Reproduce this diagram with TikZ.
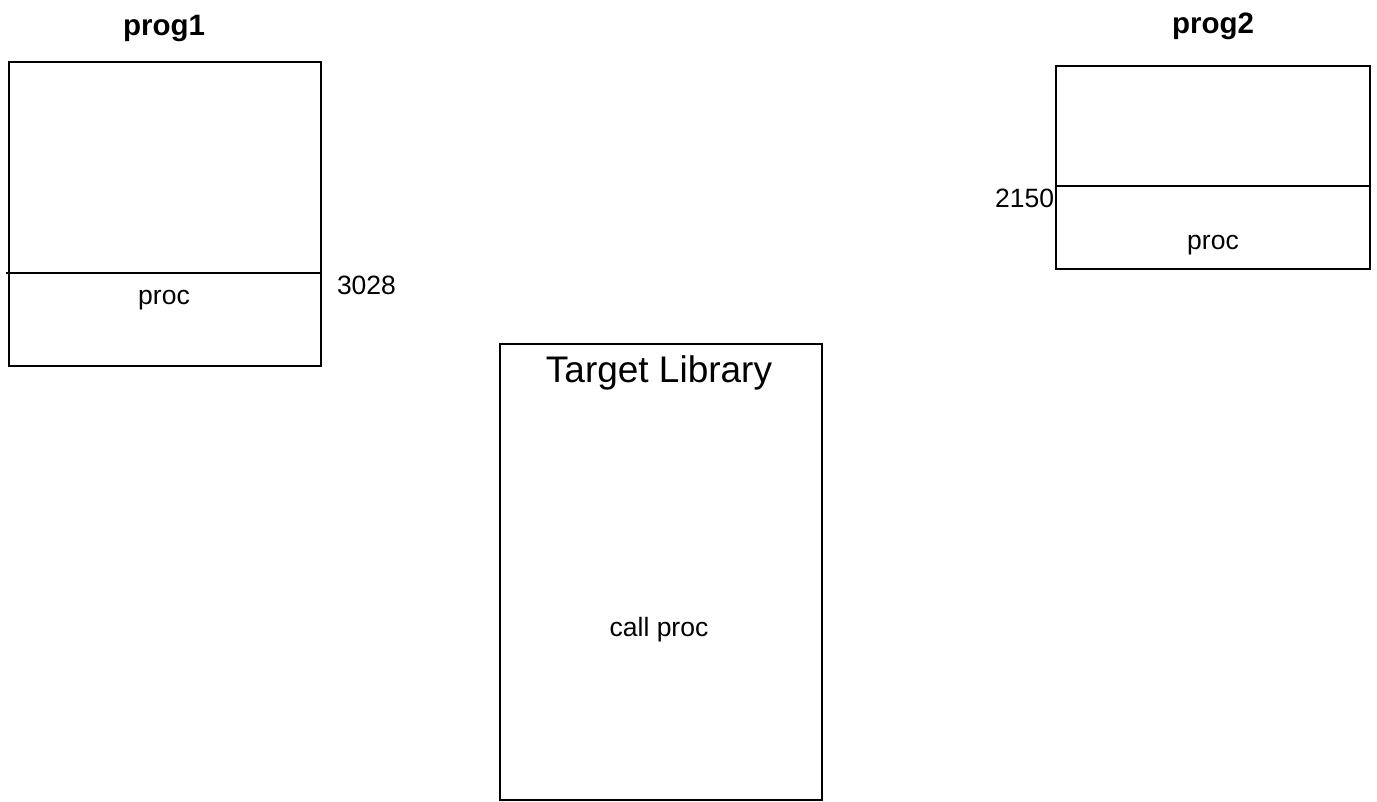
\documentclass[tikz,border=0pt]{standalone}
\usepackage{fontspec}
\setmainfont{Liberation Sans}
\begin{document}
\begin{tikzpicture}[x=1pt,y=-1pt,
  boxnode/.style={draw=black,line width=2.8pt,rectangle,inner sep=0pt,outer sep=0pt,anchor=north west},
  divider/.style={draw=black,line width=1.4pt},
  lbl/.style={inner sep=0pt,outer sep=0pt,font=\fontsize{26.5}{30}\selectfont},
  title/.style={inner sep=0pt,outer sep=0pt,font=\fontsize{29.5}{34}\selectfont\bfseries},
  big/.style={inner sep=0pt,outer sep=0pt,font=\fontsize{37}{42}\selectfont}]
\useasboundingbox (0,0) rectangle (1377,802);
% boxes
\node[boxnode,minimum width=312pt,minimum height=304pt] (p1) at (9,62) {};
\node[boxnode,minimum width=314pt,minimum height=203pt] (p2) at (1056,66) {};
\node[boxnode,minimum width=322pt,minimum height=456pt] (tl) at (500,344) {};
% dividers
\coordinate (p1d) at (6,273);
\draw[divider] (p1d) -- (p1.east |- p1d);
\coordinate (p2d) at (1056,186);
\draw[divider] (p2.west |- p2d) -- (p2.east |- p2d);
% titles
\node[title,anchor=base] (t1) at (164,36) {prog1};
\node[title,anchor=base] (t2) at (1213,34) {prog2};
% labels
\node[lbl,anchor=base] (proc1) at (164,305) {proc};
\node[lbl,anchor=base west] (n3028) at (337,295) {3028};
\node[lbl,anchor=base] (proc2) at (1213,250) {proc};
\node[lbl,anchor=base east] (n2150) at (1054,208) {2150};
\node[big,anchor=base] (tltitle) at (659,383) {Target Library};
\node[lbl,anchor=base] (call) at (659,636) {call proc};
\end{tikzpicture}
\end{document}
